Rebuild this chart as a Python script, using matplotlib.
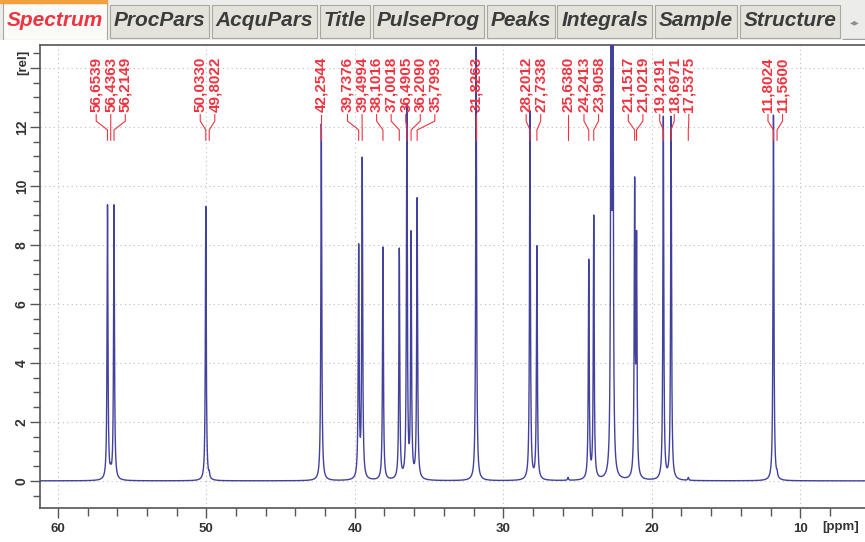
import matplotlib
matplotlib.use("Agg")
import matplotlib.pyplot as plt
import numpy as np
from matplotlib.patches import Rectangle

plt.rcParams['font.family'] = ['Liberation Sans', 'DejaVu Sans']

# picked peaks (ppm) and their heights [rel]
peak_ppm = [56.6539, 56.4363, 56.2149, 50.0330, 49.8022, 42.2544, 39.7376, 39.4994,
            38.1016, 37.0018, 36.4905, 36.2090, 35.7993, 31.8263, 28.2012, 27.7338,
            25.6380, 24.2413, 23.9058, 21.1517, 21.0219, 19.2191, 18.6971, 17.5375,
            11.8024, 11.5600]
peak_height = [9.3, 0.15, 9.3, 9.3, 0.15, 12.1, 7.8, 10.8,
               7.9, 7.8, 12.6, 8.2, 9.5, 14.7, 12.5, 7.9,
               0.1, 7.4, 8.9, 9.75, 7.8, 12.3, 12.3, 0.1,
               12.4, 0.15]
# big unlabelled peak that runs off the top
extra_ppm = [22.74, 22.62]
extra_height = [18.0, 18.0]

tabs = ["Spectrum", "ProcPars", "AcquPars", "Title", "PulseProg",
        "Peaks", "Integrals", "Sample", "Structure"]

RED = '#ee3440'
BLUE = '#42429e'
W, H = 865, 542
LW = 0.035  # lorentz half width, ppm


def spread_labels(pos, gap):
    # cluster labels that would overlap and centre each cluster on its peaks
    groups = [[i] for i in range(len(pos))]

    def place(g):
        c = np.mean([pos[i] for i in g])
        n = len(g)
        return [c + ((n - 1) / 2 - k) * gap for k in range(n)]

    changed = True
    while changed:
        changed = False
        for k in range(len(groups) - 1):
            a, b = place(groups[k]), place(groups[k + 1])
            if a[-1] - b[0] < gap:
                groups[k] = groups[k] + groups.pop(k + 1)
                changed = True
                break
    out = []
    for g in groups:
        out += place(g)
    return out


fig = plt.figure(figsize=(W / 100, H / 100), dpi=100)
fig.patch.set_facecolor('white')

# --- tab strip ---
tab_ax = fig.add_axes([0, 1 - 40 / H, 1, 40 / H])
tab_ax.set_xlim(0, W)
tab_ax.set_ylim(40, 0)
tab_ax.axis('off')
tab_ax.add_patch(Rectangle((0, 0), W, 40, color='#ececea', zorder=0))
renderer = fig.canvas.get_renderer()
x = 3
for i, name in enumerate(tabs):
    sel = i == 0
    t = tab_ax.text(x + 4, 20, name, fontsize=15, fontweight='bold', style='italic',
                    color=RED if sel else '#3c3c3c', va='center', ha='left', zorder=3)
    w = t.get_window_extent(renderer).width + 8
    tab_ax.add_patch(Rectangle((x, 5 if not sel else 3), w, 33 if not sel else 37,
                               facecolor='#fbfbf8' if sel else '#e3e3dc',
                               edgecolor='#a8a8a0', lw=0.8, zorder=1))
    if sel:
        tab_ax.add_patch(Rectangle((0, 0), w + x, 2.5, color='#f2a040', zorder=2))
    x += w + 2.5
tab_ax.text(x + 12, 22, '\u25c2\u25b8', fontsize=7, color='#909090', ha='center',
            va='center', family='DejaVu Sans')
tab_ax.plot([x, W], [38.5, 38.5], color='#a0a0a0', lw=1)

# --- spectrum ---
ax = fig.add_axes([40 / W, (H - 508) / H, 830 / W, 463 / H])
ppm = np.linspace(61.5, 5.0, 60000)
spec = np.zeros_like(ppm)
for p, h in zip(peak_ppm + extra_ppm, peak_height + extra_height):
    spec += h * LW ** 2 / (LW ** 2 + (ppm - p) ** 2)
ax.plot(ppm, spec, color=BLUE, lw=1.0, zorder=3)

ax.set_xlim(61.2, 5.3)
ax.set_ylim(-0.92, 14.78)

ax.set_xticks([60, 50, 40, 30, 20, 10])
ax.set_xticks(np.arange(8, 62, 2), minor=True)
ax.set_yticks(np.arange(0, 15, 2))
ax.set_yticklabels([str(v) for v in range(0, 13, 2)] + [''], rotation=90, va='center')
ax.set_yticks(np.arange(-0.5, 14.6, 0.5), minor=True)
ax.tick_params(axis='x', which='major', length=7, width=1, pad=4, color='#555555',
               labelsize=9.5, labelcolor='#333333')
ax.tick_params(axis='x', which='minor', length=6, width=1, color='#555555')
ax.tick_params(axis='y', which='major', length=7, width=1, pad=1, color='#555555',
               labelsize=10, labelcolor='#333333')
ax.tick_params(axis='y', which='minor', length=5, width=1, color='#555555')
for lab in ax.get_xticklabels() + ax.get_yticklabels():
    lab.set_fontweight('bold')
for s in ax.spines.values():
    s.set_color('#555555')
    s.set_linewidth(1.2)
ax.grid(True, which='major', linestyle=(0, (1, 3)), color='#bdbdbd', lw=0.8)

ax.annotate('[ppm]', xy=(7.3, 0), xycoords=('data', 'axes fraction'),
            xytext=(0, -19), textcoords='offset pixels', ha='center', va='center',
            fontsize=9.5, fontweight='bold', color='#333333')
ax.annotate('[rel]', xy=(0, 14.2), xycoords=('axes fraction', 'data'),
            xytext=(-17, 0), textcoords='offset pixels', ha='center', va='center',
            rotation=90, fontsize=9.5, fontweight='bold', color='#333333')

# --- peak labels ---
label_ppm = spread_labels(peak_ppm, 0.98)
for p, lx in zip(peak_ppm, label_ppm):
    ax.text(lx, 12.5, f"{p:.4f}".replace('.', ','), rotation=90, ha='center',
            va='bottom', fontsize=11, fontweight='bold', color=RED, zorder=4)
    ax.plot([lx, lx, p, p], [12.42, 12.2, 11.9, 11.55], color=RED, lw=0.8, zorder=4)

fig.savefig('out.png', dpi=100)
